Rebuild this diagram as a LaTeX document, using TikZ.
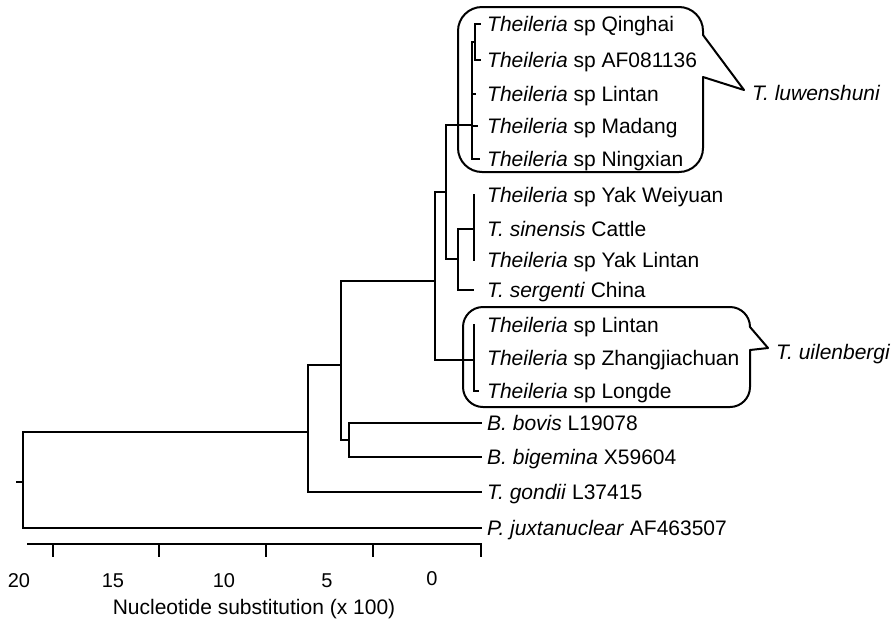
\documentclass[tikz,border=0pt]{standalone}
\usepackage{fontspec}
\setmainfont{Liberation Sans}
\usetikzlibrary{calc}

\begin{document}
\begin{tikzpicture}[
        x=1pt, y=-1pt,
        branch/.style = {draw=black, line width=2pt, line cap=rect},
        leaf/.style = {anchor=west, inner xsep=6pt, inner ysep=0pt, text height=15pt, text depth=0pt, font=\fontsize{21}{25}\selectfont},
        clade/.style = {leaf, inner xsep=8pt, font=\fontsize{21}{25}\selectfont\itshape},
        balloon/.style = {draw=black, line width=2pt, line join=round, line cap=round},
        scalebar/.style = {draw=black, line width=2.5pt},
        scalenum/.style = {inner sep=0pt, text height=14pt, text depth=0pt, font=\fontsize{20}{24}\selectfont}
    ]
        \useasboundingbox (0,0) rectangle (896,619);

        % Leaves
        \node (qinghai)   [leaf] at (481,24)  {\textit{Theileria} sp Qinghai};
        \node (af081136)  [leaf] at (481,60)  {\textit{Theileria} sp AF081136};
        \node (lintanA)   [leaf] at (481,94)  {\textit{Theileria} sp Lintan};
        \node (madang)    [leaf] at (481,126) {\textit{Theileria} sp Madang};
        \node (ningxian)  [leaf] at (481,159) {\textit{Theileria} sp Ningxian};
        \node (weiyuan)   [leaf] at (481,195) {\textit{Theileria} sp Yak Weiyuan};
        \node (sinensis)  [leaf] at (481,229) {\textit{T. sinensis} Cattle};
        \node (yaklintan) [leaf] at (481,260) {\textit{Theileria} sp Yak Lintan};
        \node (sergenti)  [leaf] at (481,290) {\textit{T. sergenti} China};
        \node (lintanB)   [leaf] at (481,325) {\textit{Theileria} sp Lintan};
        \node (zhangjia)  [leaf] at (481,358) {\textit{Theileria} sp Zhangjiachuan};
        \node (longde)    [leaf] at (481,391) {\textit{Theileria} sp Longde};
        \node (bovis)     [leaf] at (481,423) {\textit{B. bovis} L19078};
        \node (bigemina)  [leaf] at (481,457) {\textit{B. bigemina} X59604};
        \node (gondii)    [leaf] at (481,492) {\textit{T. gondii} L37415};
        \node (juxta)     [leaf] at (481,528) {\textit{P. juxtanuclear} AF463507};

        % Internal nodes
        \coordinate (rtick)  at (17,482);
        \coordinate (root)   at (23,482);
        \coordinate (nout)   at (308,432);
        \coordinate (npiro)  at (341,365);
        \coordinate (nbab)   at (349,440);
        \coordinate (nthei)  at (435,281);
        \coordinate (nupper) at (446,192);
        \coordinate (nluw)   at (472,125);
        \coordinate (nqh)    at (475,42);
        \coordinate (nserg)  at (458,259);
        \coordinate (nsin)   at (474,229);
        \coordinate (nuil)   at (474,360);

        % Branches
        \draw [branch] (rtick) -- (root);
        \draw [branch] (root) |- (nout);
        \draw [branch] (root) |- (juxta.west);
        \draw [branch] (nout) |- (npiro);
        \draw [branch] (nout) |- (gondii.west);
        \draw [branch] (npiro) |- (nthei);
        \draw [branch] (npiro) |- (nbab);
        \draw [branch] (nbab) |- (bovis.west);
        \draw [branch] (nbab) |- (bigemina.west);
        \draw [branch] (nthei) |- (nupper);
        \draw [branch] (nthei) |- (nuil);
        \draw [branch] (nupper) |- (nluw);
        \draw [branch] (nupper) |- (nserg);
        \draw [branch] (nluw) |- (nqh);
        \draw [branch] (nluw) |- ([xshift=-6pt]lintanA.west);
        \draw [branch] (nluw) |- ([xshift=-4pt]madang.west);
        \draw [branch] (nluw) |- ([xshift=-2pt]ningxian.west);
        \draw [branch] (nqh) |- ([xshift=-1pt]qinghai.west);
        \draw [branch] (nqh) |- ([xshift=-1pt]af081136.west);
        \draw [branch] (nserg) |- (nsin);
        \draw [branch] (nserg) |- ([xshift=-8pt]sergenti.west);
        \draw [branch] (nsin |- weiyuan.west) -- (nsin |- yaklintan.west);
        \draw [branch] (nuil |- lintanB.west) -- (nuil |- longde.west) -- ([xshift=-3pt]longde.west);

        % Clade balloons
        \node (luw) [clade] at (744,93)  {T. luwenshuni};
        \node (uil) [clade] at (768,352) {T. uilenbergi};

        \draw [balloon, rounded corners=24pt] (703,77) -- (703,172) -- (458,172) -- (458,7) -- (703,7) -- (703,35);
        \draw [balloon] (703,35) -- ($(luw.west)+(0,-3)$) -- (703,77);

        \draw [balloon, rounded corners=20pt] (750,350) -- (750,407) -- (463,407) -- (463,307) -- (750,307) -- (750,327);
        \draw [balloon] (750,327) -- ($(uil.west)+(0,-4)$) -- (750,350);

        % Scale bar
        \coordinate (axl) at (27,544);
        \coordinate (axr) at (482,544);
        \draw [scalebar] (axl) -- (axr);
        \draw [scalebar] (53,544) -- (53,557) (159,544) -- (159,557) (266,544) -- (266,557)
            (373,544) -- (373,557) (481,544) -- (481,557);

        \node (s20) [scalenum] at (19,580)  {20};
        \node (s15) [scalenum] at (113,580) {15};
        \node (s10) [scalenum] at (224,580) {10};
        \node (s5)  [scalenum] at (327,580) {5};
        \node (s0)  [scalenum] at (432,578) {0};
        \node (axtitle) [scalenum, font=\fontsize{21}{25}\selectfont] at (254,607) {Nucleotide substitution (x 100)};

    \end{tikzpicture}
\end{document}
